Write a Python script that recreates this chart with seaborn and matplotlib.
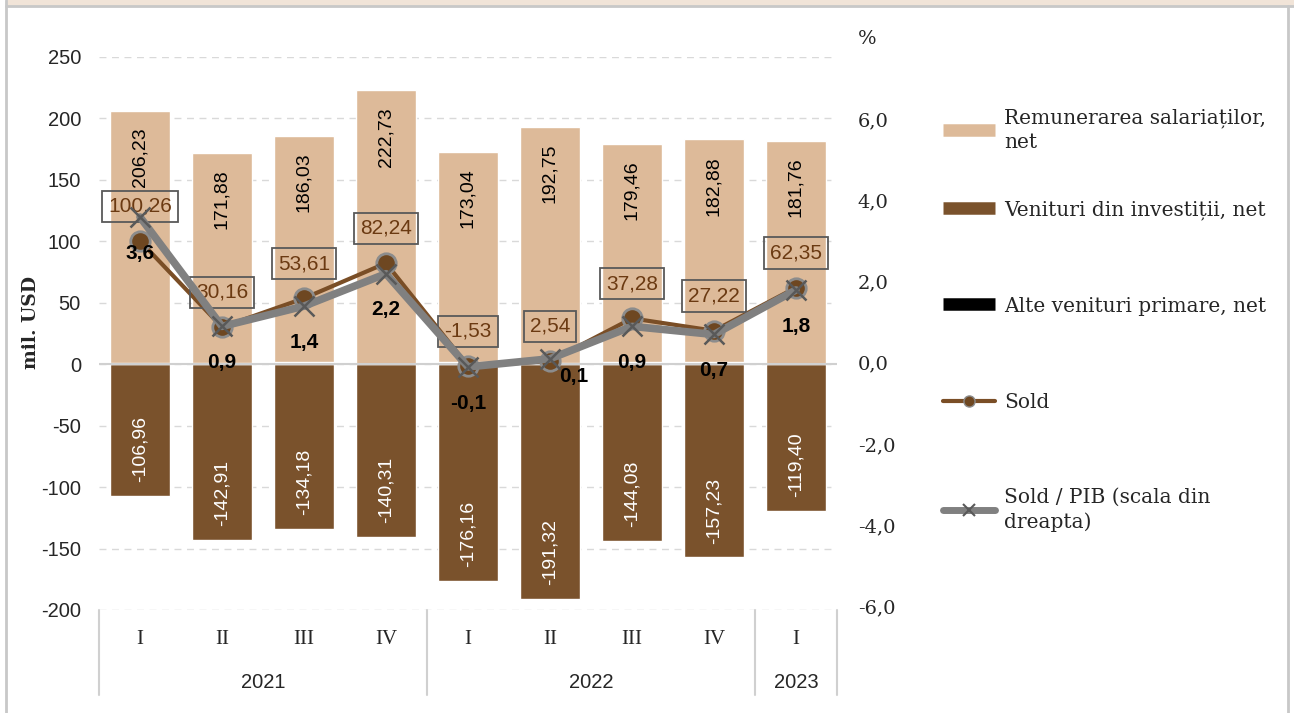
import numpy as np
import pandas as pd
import seaborn as sns
import matplotlib.pyplot as plt
from matplotlib.lines import Line2D
from matplotlib.patches import Rectangle

# date (mil. USD si % din PIB)
ani = ['2021', '2022', '2023']
trimestre_pe_an = [4, 4, 1]
trimestre = ['I', 'II', 'III', 'IV', 'I', 'II', 'III', 'IV', 'I']
remunerare = [206.23, 171.88, 186.03, 222.73, 173.04, 192.75, 179.46, 182.88, 181.76]
investitii = [-106.96, -142.91, -134.18, -140.31, -176.16, -191.32, -144.08, -157.23, -119.40]
alte = [0.99, 1.19, 1.76, -0.18, 1.59, 1.11, 1.90, 1.57, -0.01]
sold = [100.26, 30.16, 53.61, 82.24, -1.53, 2.54, 37.28, 27.22, 62.35]
sold_pib = [3.6, 0.9, 1.4, 2.2, -0.1, 0.1, 0.9, 0.7, 1.8]

C_REM = '#DDBA99'
C_INV = '#7A522C'
C_ALTE = '#000000'
C_SOLD = '#7A4E26'
C_PIB = '#808080'

an_lung = [a for a, n in zip(ani, trimestre_pe_an) for _ in range(n)]
df = pd.DataFrame({
    'perioada': [f'{t} {a}' for t, a in zip(trimestre, an_lung)],
    'poz': np.arange(len(trimestre)),
    'remunerare': remunerare,
    'investitii': investitii,
    'alte': alte,
    'sold': sold,
    'sold_pib': sold_pib,
})
ordine = list(df['perioada'])


def virgula(v, n=2):
    return f'{v:.{n}f}'.replace('.', ',')


sns.set_theme(style='white')
plt.rcParams['font.family'] = ['Liberation Sans', 'DejaVu Sans']
plt.rcParams['axes.unicode_minus'] = False
SERIF = ['DejaVu Serif']

fig = plt.figure(figsize=(12.94, 7.13), dpi=100)
ax = fig.add_axes([0.0765, 0.1445, 0.5703, 0.7756])

# bare stivuite
sns.barplot(data=df, x='perioada', y='remunerare', order=ordine, color=C_REM,
            saturation=1, width=0.73, errorbar=None, ax=ax, zorder=2)
sns.barplot(data=df, x='perioada', y='investitii', order=ordine, color=C_INV,
            saturation=1, width=0.73, errorbar=None, ax=ax, zorder=2)
sns.barplot(data=df, x='perioada', y='alte', order=ordine, color=C_ALTE,
            saturation=1, width=0.73, errorbar=None, ax=ax, zorder=2)

ax.axhline(0, color='#D0D0D0', lw=1.5, zorder=3)

for i, v in enumerate(remunerare):
    ax.annotate(virgula(v), (i, v), xytext=(0, -12), textcoords='offset points',
                rotation=90, ha='center', va='top', fontsize=14, color='black', zorder=5)
for i, v in enumerate(investitii):
    ax.annotate(virgula(v), (i, v), xytext=(0, 10), textcoords='offset points',
                rotation=90, ha='center', va='bottom', fontsize=14, color='white', zorder=5)

# sold (scala din stanga)
sns.lineplot(data=df, x='poz', y='sold', ax=ax, color=C_SOLD, lw=3, marker='o',
             markersize=14, markerfacecolor='#6E4721', markeredgecolor='#8C8C8C',
             markeredgewidth=2, zorder=6, legend=False)
for i, v in enumerate(sold):
    ax.annotate(virgula(v), (i, v), xytext=(0, 25), textcoords='offset points',
                ha='center', va='center', fontsize=15, color='#6B3A12', zorder=7,
                bbox=dict(boxstyle='square,pad=0.3', fc='none', ec='#595959', lw=1.3))

ax.set_xlim(-0.5, len(trimestre) - 0.5)
ax.set_ylim(-200, 250)
ax.set_yticks(np.arange(-200, 251, 50))
ax.set_xticks([])
ax.set_xlabel('')
ax.set_ylabel('mil. USD', fontsize=13.5, fontweight='bold', family=SERIF)
ax.yaxis.set_label_coords(-0.08, 0.52)
ax.yaxis.grid(True, color='#D9D9D9', linestyle=(0, (5, 4)), lw=1)
ax.set_axisbelow(True)
ax.tick_params(axis='y', labelsize=14.5, pad=13, length=0)
for s in ax.spines.values():
    s.set_visible(False)

# sold / PIB (scala din dreapta)
ax2 = ax.twinx()
sns.lineplot(data=df, x='poz', y='sold_pib', ax=ax2, color=C_PIB, lw=5.5, marker='x',
             markersize=15, markeredgecolor='#595959', markeredgewidth=1.8,
             legend=False)
for i, v in enumerate(sold_pib):
    dx, dy = (17, -13) if i == 5 else (0, -26)
    ax2.annotate(virgula(v, 1), (i, v), xytext=(dx, dy), textcoords='offset points',
                 ha='center', va='center', fontsize=15, fontweight='bold', color='black')
ax2.set_ylim(-6.1, 7.55)
ax2.set_yticks(np.arange(-6, 7, 2))
ax2.set_yticklabels([virgula(t, 1) for t in np.arange(-6, 7, 2)], family=SERIF)
ax2.tick_params(axis='y', labelsize=14, pad=15, length=0)
ax2.set_ylabel('')
ax2.set_xlim(-0.5, len(trimestre) - 0.5)
for s in ax2.spines.values():
    s.set_visible(False)
ax2.text(1.0285, 8.0, '%', transform=ax2.get_yaxis_transform(), ha='left', va='center',
         fontsize=14, family=SERIF)

# axa categoriilor pe doua niveluri
xt = ax.get_xaxis_transform()
for i, t in enumerate(trimestre):
    ax.text(i, -0.054, t, transform=xt, ha='center', va='center', fontsize=15,
            family=['Liberation Serif'])
limite = np.concatenate([[0], np.cumsum(trimestre_pe_an)]) - 0.5
for k, a in enumerate(ani):
    ax.text((limite[k] + limite[k + 1]) / 2, -0.132, a, transform=xt, ha='center',
            va='center', fontsize=14.5)
for b in limite:
    ax.plot([b, b], [0, -0.154], transform=xt, color='#D0D0D0', lw=1.5, clip_on=False)

# legenda (cate o intrare, ca in Excel)
handles = [
    Line2D([0], [0], color=C_REM, lw=9, solid_capstyle='butt'),
    Line2D([0], [0], color=C_INV, lw=9, solid_capstyle='butt'),
    Line2D([0], [0], color=C_ALTE, lw=9, solid_capstyle='butt'),
    Line2D([0], [0], color=C_SOLD, lw=3, marker='o', markersize=8,
           markerfacecolor='#6E4721', markeredgecolor='#8C8C8C'),
    Line2D([0], [0], color=C_PIB, lw=5, marker='x', markersize=8,
           markeredgecolor='#595959', markeredgewidth=1.5),
]
labels = ['Remunerarea salariaților,\nnet', 'Venituri din investiții, net',
          'Alte venituri primare, net', 'Sold', 'Sold / PIB (scala din\ndreapta)']
centre_leg = [130, 210, 306, 403, 510]
for h, l, yc in zip(handles, labels, centre_leg):
    leg = fig.legend([h], [l], loc='center left', bbox_to_anchor=(935 / 1294, 1 - yc / 713),
                     frameon=False, prop={'family': SERIF, 'size': 14.5}, handlelength=2.6,
                     handletextpad=0.45, borderaxespad=0)
    for t in leg.get_texts():
        t.set_linespacing(1.35)

# chenarul
fig.add_artist(Rectangle((6 / 1294, 1 - 6 / 713), 1, 6 / 713, transform=fig.transFigure,
                         fc='#F1E4D8', ec='none'))
fig.add_artist(Line2D([6 / 1294, 1], [1 - 6 / 713] * 2, color='#C8C8C8', lw=2))
fig.add_artist(Line2D([6 / 1294] * 2, [0, 1], color='#C8C8C8', lw=2))
fig.add_artist(Line2D([1288 / 1294] * 2, [0, 1 - 6 / 713], color='#C8C8C8', lw=2))

plt.savefig('out.png', dpi=100)
